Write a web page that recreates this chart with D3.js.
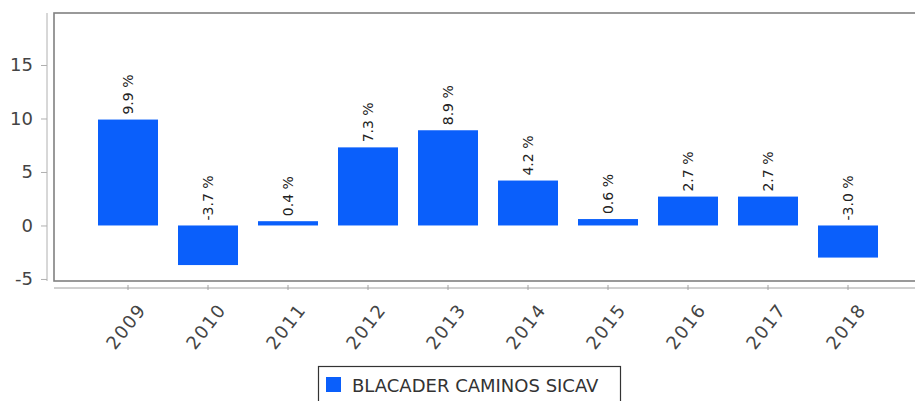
<!DOCTYPE html>
<html>
<head>
<meta charset="utf-8">
<script src="https://cdn.jsdelivr.net/npm/d3@7/dist/d3.min.js"></script>
<style>
  html, body { margin: 0; padding: 0; background: #fff; overflow: hidden; }
  svg { display: block; }
</style>
</head>
<body>
<svg id="chart" width="915" height="401"></svg>
<script>
const years = ["2009","2010","2011","2012","2013","2014","2015","2016","2017","2018"];
const returns = [9.9, -3.7, 0.4, 7.3, 8.9, 4.2, 0.6, 2.7, 2.7, -3.0];
const yTicks = [-5, 0, 5, 10, 15];
const seriesName = "BLACADER CAMINOS SICAV";

const svg = d3.select("#chart");
const plot = { left: 54, top: 13, right: 922, bottom: 281 };
const blue = "#0a5ffb";
const font = "DejaVu Sans, sans-serif";

const x = d3.scaleBand().domain(years).range([plot.left, plot.right])
  .paddingInner(0.25).paddingOuter(0.55);
const y = d3.scaleLinear().domain([-5.19, 19.86]).range([plot.bottom, plot.top]);

// plot border
svg.append("rect")
  .attr("x", plot.left).attr("y", plot.top)
  .attr("width", plot.right - plot.left).attr("height", plot.bottom - plot.top)
  .attr("fill", "#fff").attr("stroke", "#808080").attr("stroke-width", 1.6);

// bars
svg.append("g").selectAll("rect").data(years).join("rect")
  .attr("x", d => x(d))
  .attr("width", x.bandwidth())
  .attr("y", (d, i) => y(Math.max(0, returns[i])))
  .attr("height", (d, i) => Math.abs(y(returns[i]) - y(0)))
  .attr("fill", blue);

// value labels
svg.append("g").selectAll("text").data(years).join("text")
  .attr("transform", (d, i) => {
    const cx = x(d) + x.bandwidth() / 2;
    const base = y(Math.max(0, returns[i])) - 5;
    return `translate(${cx + 5},${base}) rotate(-90)`;
  })
  .attr("font-family", font).attr("font-size", 14).attr("fill", "#222")
  .text((d, i) => returns[i].toFixed(1) + " %");

// y axis (offset left)
const yAxisX = 47;
const yAxis = d3.axisLeft(y).tickValues(yTicks).tickSize(6).tickPadding(8).tickFormat(d => String(d));
const gy = svg.append("g").attr("transform", `translate(${yAxisX},0)`).call(yAxis);
gy.select(".domain").attr("d", `M0,${plot.top}V${plot.bottom}`).attr("stroke", "#b0b0b0");
gy.selectAll(".tick line").attr("stroke", "#b0b0b0");
gy.selectAll(".tick text").attr("font-family", font).attr("font-size", 18).attr("fill", "#444");

// x axis (offset below)
const xAxisY = 288;
const xAxis = d3.axisBottom(x).tickSize(4).tickSizeOuter(0);
const gx = svg.append("g").attr("transform", `translate(0,${xAxisY})`).call(xAxis);
gx.select(".domain").attr("d", `M${plot.left},0H${plot.right}`).attr("stroke", "#a0a0a0");
gx.selectAll(".tick line").attr("stroke", "#a0a0a0").attr("y1", -3).attr("y2", 2);
gx.selectAll(".tick text")
  .attr("font-family", font).attr("font-size", 18).attr("fill", "#444")
  .attr("letter-spacing", 1.5)
  .attr("text-anchor", "end")
  .attr("transform", "translate(14,18) rotate(-52)")
  .attr("x", 0).attr("y", 0).attr("dy", "0.35em");

// legend
const lg = svg.append("g");
lg.append("rect").attr("x", 318.5).attr("y", 366.5).attr("width", 302).attr("height", 50)
  .attr("fill", "#fff").attr("stroke", "#333").attr("stroke-width", 1.2);
lg.append("rect").attr("x", 326).attr("y", 377).attr("width", 15).attr("height", 15).attr("fill", blue);
lg.append("text").attr("x", 352).attr("y", 392)
  .attr("font-family", font).attr("font-size", 18).attr("fill", "#333")
  .text(seriesName);
</script>
</body>
</html>
